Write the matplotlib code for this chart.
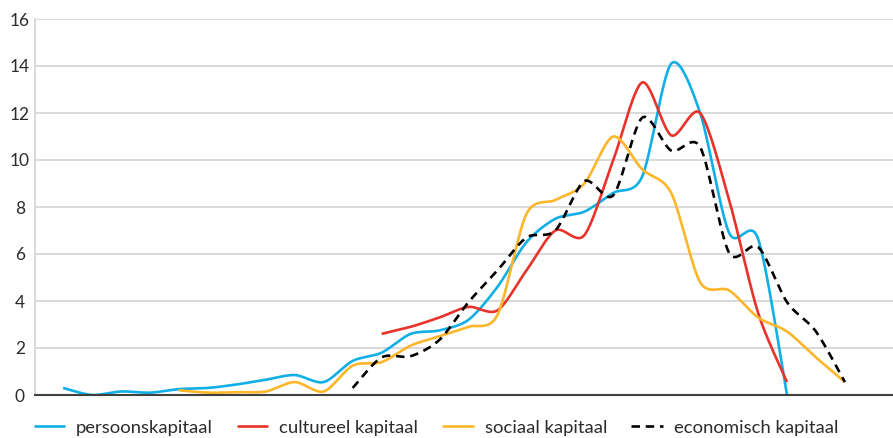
import numpy as np
import matplotlib
matplotlib.use('Agg')
import matplotlib.pyplot as plt
from matplotlib.ticker import MultipleLocator

plt.rcParams['font.family'] = ['Lato', 'DejaVu Sans']

# category index of each point (28 categories on the x axis, no labels shown)
persoon_x = list(range(0, 26))
persoon_y = [0.3, 0.0, 0.15, 0.1, 0.25, 0.3, 0.45, 0.65, 0.85, 0.55,
             1.45, 1.8, 2.6, 2.75, 3.2, 4.6, 6.5, 7.5, 7.8, 8.6,
             9.3, 14.1, 12.0, 6.9, 6.65, 0.0]

cultuur_x = list(range(11, 26))
cultuur_y = [2.6, 2.9, 3.3, 3.75, 3.6, 5.3, 7.0, 6.8, 10.0, 13.3,
             11.05, 12.0, 8.3, 3.5, 0.55]

sociaal_x = list(range(4, 28))
sociaal_y = [0.2, 0.1, 0.12, 0.15, 0.55, 0.15, 1.25, 1.4, 2.1, 2.5,
             2.9, 3.4, 7.7, 8.3, 9.0, 11.0, 9.6, 8.6, 4.8, 4.45,
             3.3, 2.7, 1.6, 0.55]

economie_x = list(range(10, 28))
economie_y = [0.3, 1.6, 1.65, 2.35, 3.95, 5.3, 6.7, 7.0, 9.1, 8.5,
              11.8, 10.4, 10.55, 6.05, 6.3, 3.95, 2.7, 0.55]

labels = ['persoonskapitaal', 'cultureel kapitaal', 'sociaal kapitaal', 'economisch kapitaal']


def smooth(xs, ys, n=30, k=1 / 7):
    # bezier smoothing through the points, like a spreadsheet "smoothed line"
    p = np.column_stack([xs, ys]).astype(float)
    pts = np.vstack([p[0], p, p[-1]])
    out = []
    t = np.linspace(0, 1, n)[:, None]
    for i in range(1, len(pts) - 2):
        p0, p3 = pts[i], pts[i + 1]
        c1 = p0 + (pts[i + 1] - pts[i - 1]) * k
        c2 = p3 - (pts[i + 2] - pts[i]) * k
        seg = ((1 - t) ** 3) * p0 + 3 * ((1 - t) ** 2) * t * c1 + 3 * (1 - t) * t ** 2 * c2 + t ** 3 * p3
        out.append(seg if i == 1 else seg[1:])
    out = np.vstack(out)
    return out[:, 0], out[:, 1]


fig = plt.figure(figsize=(8.93, 4.38), dpi=100)
ax = fig.add_axes([35 / 893, 43 / 438, 1 - 35 / 893, 376 / 438])

series = [
    (persoon_x, persoon_y, '#12aee6', '-'),
    (cultuur_x, cultuur_y, '#e8332b', '-'),
    (sociaal_x, sociaal_y, '#fbb62a', '-'),
    (economie_x, economie_y, 'black', (0, (3.2, 2.2))),
]
for (xs, ys, col, ls), lab in zip(series, labels):
    sx, sy = smooth(xs, ys)
    ax.plot(sx, sy, color=col, linestyle=ls, linewidth=1.9, label=lab, solid_capstyle='butt')

ax.set_xlim(-0.97, 28.66)
ax.set_ylim(0, 16)
ax.yaxis.set_major_locator(MultipleLocator(2))
ax.set_xticks([])
ax.grid(axis='y', color='#d9d9d9', linewidth=1.4)
ax.set_axisbelow(True)
for s in ['top', 'right']:
    ax.spines[s].set_visible(False)
ax.spines['left'].set_color('#d9d9d9')
ax.spines['left'].set_linewidth(1.4)
ax.spines['bottom'].set_color('#404040')
ax.spines['bottom'].set_linewidth(1.5)
ax.spines['bottom'].set_zorder(5)
ax.tick_params(axis='y', length=0, pad=11, labelsize=12.5, colors='#2b2b2b')
for t in ax.get_yticklabels():
    t.set_horizontalalignment('center')

fig.legend(loc='center', bbox_to_anchor=(0.488, 0.023), ncol=4, frameon=False,
           fontsize=13.3, handlelength=1.7, handletextpad=0.6, columnspacing=1.3,
           labelcolor='#2b2b2b')

fig.savefig('out.png', dpi=100)
